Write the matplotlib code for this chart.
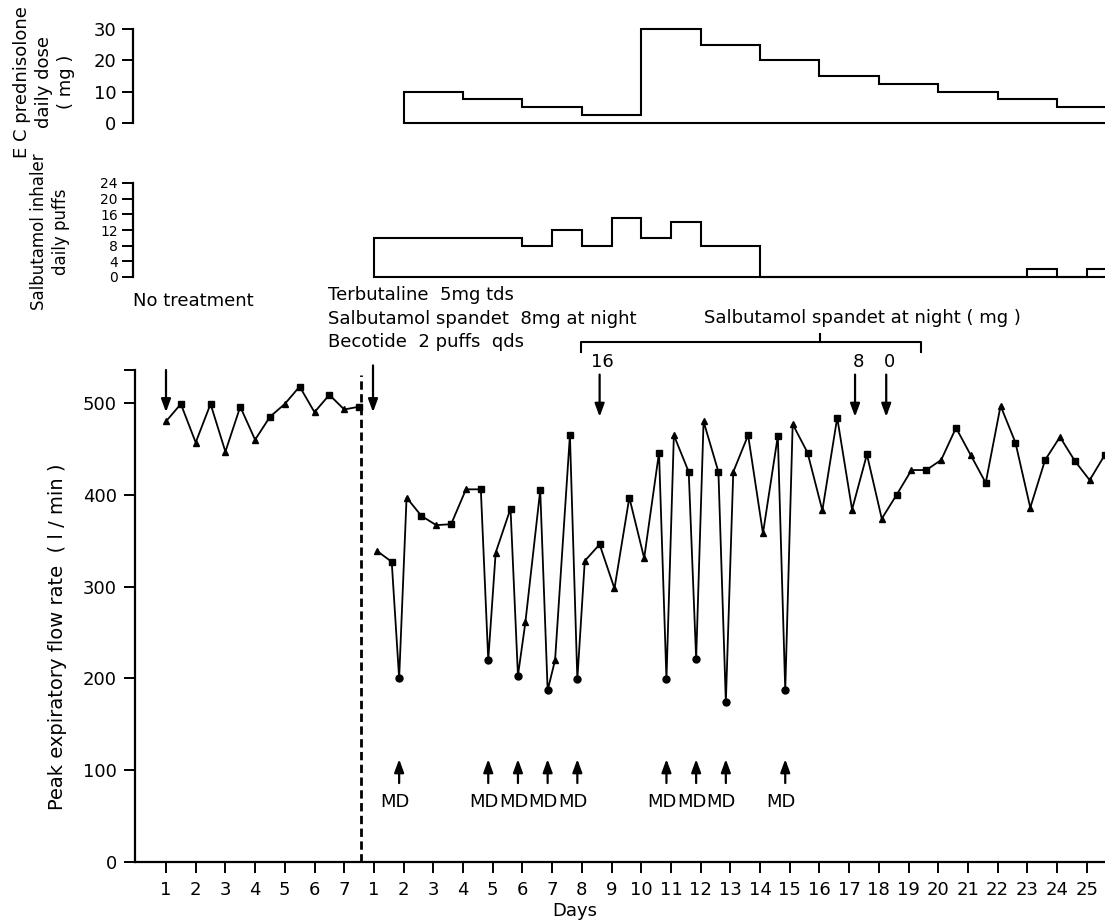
import matplotlib
matplotlib.use('Agg')
import matplotlib.pyplot as plt
from matplotlib.ticker import FixedLocator

# peak flow before treatment (l/min), morning and evening, days 1-7
pre_days = [1, 2, 3, 4, 5, 6, 7]
pre_morning = [480, 457, 447, 460, 499, 490, 493]
pre_evening = [499, 499, 496, 485, 518, 509, 496]

# peak flow during treatment, days 1-25
treat_days = list(range(1, 26))
treat_morning = [339, 397, 367, 406, 337, 261, 220, 328, 298, 331, 465, 480, 425,
                 358, 477, 383, 384, 374, 427, 438, 443, 497, 386, 463, 416]
treat_evening = [327, 377, 368, 406, 385, 405, 465, 346, 397, 446, 425, 425, 465,
                 464, 446, 484, 444, 400, 427, 473, 413, 457, 438, 437, 443]
# night readings with MD
md_days = [1, 4, 5, 6, 7, 10, 11, 12, 14]
md_values = [200, 220, 203, 187, 199, 199, 221, 174, 187]

# EC prednisolone daily dose (mg), step edges in treatment days
pred_edges = [2, 4, 6, 8, 10, 12, 14, 16, 18, 20, 22, 24, 26]
pred_dose = [10, 7.5, 5, 2.5, 30, 25, 20, 15, 12.5, 10, 7.5, 5]

# salbutamol inhaler daily puffs
salb_edges = [1, 6, 7, 8, 9, 10, 11, 12, 14, 23, 24, 25, 26]
salb_puffs = [10, 8, 12, 8, 15, 10, 14, 8, 0, 2, 0, 2]

# salbutamol spandet at night changes (treatment day, mg)
spandet_days = [8.6, 17.2, 18.25]
spandet_mg = ['16', '8', '0']

pre_labels = [str(d) for d in pre_days]
treat_labels = [str(d) for d in treat_days]

W, H = 1105, 922
FS = 13
plt.rcParams['font.family'] = 'DejaVu Sans'
plt.rcParams['font.size'] = FS


def px2day(px):
    # pixel column -> plot position (pre day 1 = 1, treatment day 1 = 8)
    return 1 + (px - 166) / 29.7


def fx(px):
    return px / W


def fy(py):
    return 1 - py / H


OFF = 7  # treatment day t sits at position 7 + t

fig = plt.figure(figsize=(W / 100, H / 100), dpi=100)
ax = fig.add_axes([fx(135), fy(862), 1 - fx(135), (862 - 370) / H])
ax_p = fig.add_axes([fx(133), fy(123), 1 - fx(133), 94 / H])
ax_s = fig.add_axes([fx(133), fy(277), 1 - fx(133), 94 / H])

# ---- main panel
pre_x, pre_y, pre_m = [], [], []
for d, m, e in zip(pre_days, pre_morning, pre_evening):
    pre_x += [d, d + 0.5]
    pre_y += [m, e]
    pre_m += ['^', 's']

tr_x, tr_y, tr_m = [], [], []
for d, m, e in zip(treat_days, treat_morning, treat_evening):
    tr_x += [OFF + d + 0.1, OFF + d + 0.6]
    tr_y += [m, e]
    tr_m += ['^', 's']
    if d in md_days:
        tr_x.append(OFF + d + 0.85)
        tr_y.append(md_values[md_days.index(d)])
        tr_m.append('o')

for xs, ys, ms in [(pre_x, pre_y, pre_m), (tr_x, tr_y, tr_m)]:
    ax.plot(xs, ys, color='black', lw=1.3, zorder=2)
    for mk, size in [('^', 4.5), ('s', 4), ('o', 5)]:
        sel = [i for i, k in enumerate(ms) if k == mk]
        ax.plot([xs[i] for i in sel], [ys[i] for i in sel], ls='none', marker=mk,
                ms=size, color='black', zorder=3, clip_on=False)

ax.axvline(7.55, ymin=0, ymax=0.99, color='black', lw=2, ls=(0, (3, 1.6)), zorder=1)

ax.set_xlim(px2day(135), px2day(1105))
ax.set_ylim(0, 536)
ax.set_yticks([0, 100, 200, 300, 400, 500])
ax.yaxis.set_minor_locator(FixedLocator([536]))
ax.set_xticks(pre_days + [OFF + d for d in treat_days])
ax.set_xticklabels(pre_labels + treat_labels)
for s in ['top', 'right']:
    ax.spines[s].set_visible(False)
for s in ['left', 'bottom']:
    ax.spines[s].set_linewidth(1.6)
ax.tick_params(axis='both', which='both', direction='out', length=8, width=1.4,
               labelsize=FS)
ax.tick_params(axis='y', pad=5)
ax.tick_params(axis='x', pad=6)

arrow = dict(arrowstyle='-|>,head_width=0.22,head_length=0.6', color='black', lw=1.6,
             shrinkA=0, shrinkB=0)
# start of observation / treatment
for xpos, y0 in [(1, 536), (7.97, 541)]:
    ax.annotate('', xy=(xpos, 490), xytext=(xpos, y0), arrowprops=arrow,
                annotation_clip=False)
# spandet dose changes
for d, lab in zip(spandet_days, spandet_mg):
    ax.annotate('', xy=(OFF + d, 485), xytext=(OFF + d, 531), arrowprops=arrow,
                annotation_clip=False)
    ax.text(OFF + d + 0.1, 545, lab, ha='center', va='center', fontsize=FS,
            clip_on=False)

# MD markers
mdarrow = dict(arrowprops=arrow)
for d in md_days:
    xpos = OFF + d + 0.85
    ax.annotate('', xy=(xpos, 112), xytext=(xpos, 86), arrowprops=arrow)
    ax.text(xpos - 0.15, 65, 'MD', ha='center', va='center', fontsize=FS)

# bracket over the spandet period
bx0, bx1, bxm = px2day(581), px2day(921), px2day(820)
yb = (862 - 342) / 0.918
yd = (862 - 352) / 0.918
yu = (862 - 334) / 0.918
ax.plot([bx0, bx0, bx1, bx1], [yd, yb, yb, yd], color='black', lw=1.5, clip_on=False)
ax.plot([bxm, bxm], [yb, yu], color='black', lw=1.5, clip_on=False)

# ---- prednisolone panel
ax_p.stairs(pred_dose, [OFF + e for e in pred_edges], baseline=0, color='black',
            lw=1.5, clip_on=False)
ax_p.plot([OFF + pred_edges[0], 40], [0, 0], color='black', lw=1.5, clip_on=False)
ax_p.set_ylim(0, 30)
ax_p.set_yticks([0, 10, 20, 30])

# ---- salbutamol inhaler panel
ax_s.stairs(salb_puffs, [OFF + e for e in salb_edges], baseline=0, color='black',
            lw=1.5, clip_on=False)
ax_s.plot([OFF + salb_edges[0], 40], [0, 0], color='black', lw=1.5, clip_on=False)
ax_s.set_ylim(0, 24)
ax_s.set_yticks([0, 4, 8, 12, 16, 20, 24])

for a in [ax_p, ax_s]:
    a.set_xlim(px2day(133), px2day(1105))
    a.set_xticks([])
    for s in ['top', 'right', 'bottom']:
        a.spines[s].set_visible(False)
    a.spines['left'].set_linewidth(1.6)
    a.tick_params(axis='y', direction='out', length=8, width=1.4, pad=4,
                  labelsize=FS)
ax_s.tick_params(axis='y', labelsize=10, pad=3)

# ---- texts
fig.text(fx(133), fy(301), 'No treatment', ha='left', va='center', fontsize=FS)
fig.text(fx(328), fy(295), 'Terbutaline  5mg tds', ha='left', va='center', fontsize=FS)
fig.text(fx(328), fy(319), 'Salbutamol spandet  8mg at night', ha='left', va='center',
         fontsize=FS)
fig.text(fx(328), fy(342), 'Becotide  2 puffs  qds', ha='left', va='center', fontsize=FS)
fig.text(fx(862), fy(318), 'Salbutamol spandet at night ( mg )', ha='center',
         va='center', fontsize=FS)

fig.text(fx(58), fy(637), 'Peak expiratory flow rate  ( l / min )', rotation=90,
         ha='center', va='center', fontsize=14)
fig.text(fx(575), fy(911), 'Days', ha='center', va='center', fontsize=FS)
fig.text(fx(44), fy(82), 'E C prednisolone\ndaily dose\n( mg )', rotation=90,
         ha='center', va='center', multialignment='center', linespacing=1.3,
         fontsize=FS)
fig.text(fx(50), fy(232), 'Salbutamol inhaler\ndaily puffs', rotation=90,
         ha='center', va='center', multialignment='center', linespacing=1.25,
         fontsize=12)

fig.savefig('out.png', dpi=100)
